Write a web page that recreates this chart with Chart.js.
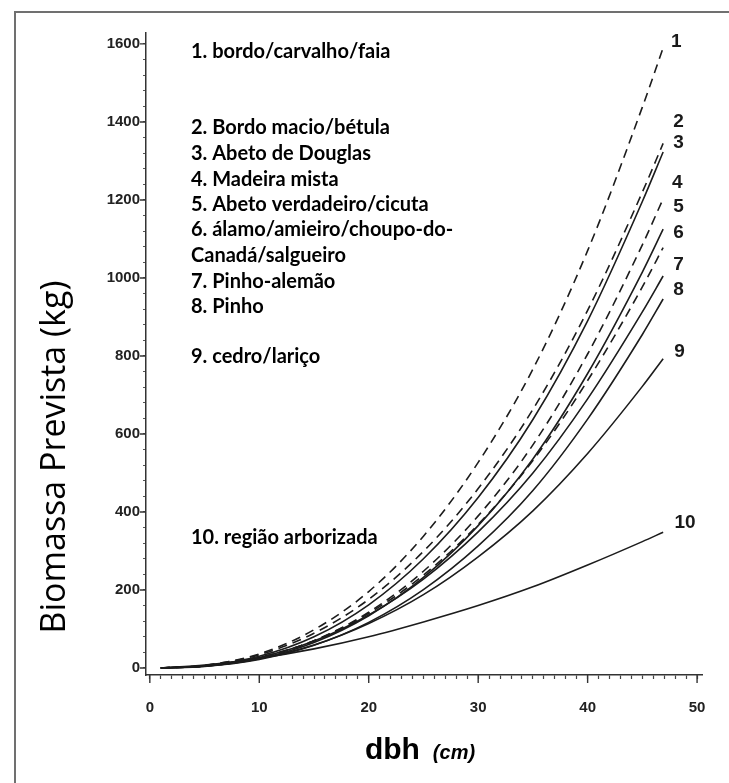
<!DOCTYPE html>
<html>
<head>
<meta charset="utf-8">
<script src="https://cdn.jsdelivr.net/npm/chart.js@4.4.1/dist/chart.umd.min.js"></script>
<style>
  body { margin: 0; background: #fff; }
  #wrap { position: relative; width: 729px; height: 783px; overflow: hidden; }
  #frame { position: absolute; left: 14px; top: 11px; width: 800px; height: 900px;
           border-left: 2px solid #707070; border-top: 2px solid #707070; }
  #c { position: absolute; left: 0; top: 0; }
</style>
</head>
<body>
<div id="wrap">
  <div id="frame"></div>
  <canvas id="c" width="729" height="783"></canvas>
</div>
<script>
// dbh (cm) where the curves were read
var dbh = [1, 5, 10, 15, 20, 25, 30, 35, 40, 45, 46.9];

// predicted biomass (kg) for each group
var bordoCarvalho = [0.1, 6.7, 36, 98, 196, 338, 527, 766, 1070, 1438, 1590];
var bordoMacio    = [0.1, 6.7, 34, 89, 176, 299, 460, 663, 917, 1220, 1345];
var douglas       = [0.1, 5.5, 30, 80, 162, 280, 437, 637, 890, 1196, 1323];
var mista         = [0.1, 4.6, 25.5, 70, 143, 248, 390, 572, 805, 1085, 1203];
var abetoCicuta   = [0.1, 4.3, 24, 65.5, 134, 232, 365, 536, 755, 1015, 1125];
var alamo         = [0.1, 5.1, 27, 70, 140, 238, 368, 532, 737, 977, 1078];
var pinhoAlemao   = [0.1, 5.4, 27, 69, 136, 228, 349, 500, 690, 913, 1005];
var pinho         = [0.1, 4.0, 22, 58, 117, 201, 313, 455, 638, 855, 946];
var cedroLarico   = [0.1, 5.0, 24, 59, 114, 188, 285, 403, 550, 722, 793];
var regiaoArb     = [0.5, 7.6, 25, 49, 80, 118, 160, 208, 264, 324, 348];

var series = [bordoCarvalho, bordoMacio, douglas, mista, abetoCicuta,
              alamo, pinhoAlemao, pinho, cedroLarico, regiaoArb];
var dashed = [true, true, false, true, false, true, false, false, false, false];

// number tags at the curve ends (data units)
var tagText = ["1", "2", "3", "4", "5", "6", "7", "8", "9", "10"];
var tagX = [48.1, 48.3, 48.3, 48.2, 48.3, 48.3, 48.3, 48.3, 48.4, 48.9];
var tagY = [1605, 1400, 1346, 1244, 1182, 1116, 1033, 969, 810, 372];

// legend list
var legendText = [
  "1. bordo/carvalho/faia",
  "2. Bordo macio/bétula",
  "3. Abeto de Douglas",
  "4. Madeira mista",
  "5. Abeto verdadeiro/cicuta",
  "6. álamo/amieiro/choupo-do-",
  "Canadá/salgueiro",
  "7. Pinho-alemão",
  "8. Pinho",
  "9. cedro/lariço",
  "10. região arborizada"
];
var legendRowY = [52, 128, 154, 180, 205, 230, 256, 282, 307, 357, 538];

var xTitle = "dbh";
var xUnit = "(cm)";
var yTitle = "Biomassa Prevista (kg)";

var datasets = series.map(function (vals, i) {
  return {
    label: tagText[i],
    data: dbh.map(function (d, k) { return { x: d, y: vals[k] }; }),
    borderColor: "#1c1c1c",
    borderWidth: 1.6,
    borderDash: dashed[i] ? [9, 6] : [],
    pointRadius: 0,
    cubicInterpolationMode: "monotone",
    fill: false
  };
});

var extras = {
  id: "extras",
  afterDraw: function (chart) {
    var ctx = chart.ctx, a = chart.chartArea;
    var x = chart.scales.x, y = chart.scales.y;
    ctx.save();
    // longer major ticks
    ctx.strokeStyle = "#333";
    ctx.lineWidth = 1.4;
    ctx.beginPath();
    for (var v = 0; v <= 50; v += 10) {
      var px = x.getPixelForValue(v);
      ctx.moveTo(px, a.bottom); ctx.lineTo(px, a.bottom + 8);
    }
    for (var w = 0; w <= 1600; w += 200) {
      var py = y.getPixelForValue(w);
      ctx.moveTo(a.left - 6, py); ctx.lineTo(a.left, py);
    }
    ctx.stroke();

    // curve number tags
    ctx.fillStyle = "#1a1a1a";
    ctx.font = 'bold 19px "Liberation Sans"';
    ctx.textAlign = "center";
    ctx.textBaseline = "middle";
    tagText.forEach(function (t, i) {
      ctx.fillText(t, x.getPixelForValue(tagX[i]), y.getPixelForValue(tagY[i]));
    });

    // legend list
    ctx.fillStyle = "#000";
    ctx.font = 'bold 20px Lato';
    ctx.textAlign = "left";
    legendText.forEach(function (t, i) {
      ctx.fillText(t, 191, legendRowY[i]);
    });

    // x title: "dbh (cm)"
    ctx.textBaseline = "alphabetic";
    ctx.font = 'bold 30px "Liberation Sans"';
    var w1 = ctx.measureText(xTitle).width;
    ctx.font = 'italic bold 20px "Liberation Sans"';
    var w2 = ctx.measureText(xUnit).width;
    var gap = 13;
    var start = 420 - (w1 + gap + w2) / 2;
    ctx.font = 'bold 30px "Liberation Sans"';
    ctx.fillText(xTitle, start, 759);
    ctx.font = 'italic bold 20px "Liberation Sans"';
    ctx.fillText(xUnit, start + w1 + gap, 759);

    // y title
    ctx.translate(55, 457);
    ctx.rotate(-Math.PI / 2);
    ctx.textAlign = "center";
    ctx.textBaseline = "middle";
    ctx.font = '34px "Open Sans"';
    ctx.fillText(yTitle, 0, 0);
    ctx.restore();
  }
};

new Chart(document.getElementById("c"), {
  type: "scatter",
  data: { datasets: datasets },
  options: {
    responsive: false,
    animation: false,
    showLine: true,
    layout: { padding: { left: 0, top: 33, right: 27, bottom: 0 } },
    plugins: { legend: { display: false }, tooltip: { enabled: false } },
    scales: {
      x: {
        type: "linear",
        min: -0.35,
        max: 50.45,
        afterFit: function (s) { s.height = 108; },
        border: { display: true, color: "#333", width: 1.5 },
        grid: { display: true, drawOnChartArea: false, drawTicks: true, tickLength: 4, tickColor: "#444", tickWidth: 1.2 },
        ticks: {
          stepSize: 1,
          includeBounds: false,
          autoSkip: false,
          maxRotation: 0,
          padding: 20,
          color: "#222",
          font: { family: "Liberation Sans", size: 15, weight: "bold" },
          callback: function (v) { return v % 10 === 0 ? String(v) : ""; }
        }
      },
      y: {
        type: "linear",
        min: -18,
        max: 1628,
        afterFit: function (s) { s.width = 146; },
        border: { display: true, color: "#333", width: 1.5 },
        grid: { display: true, drawOnChartArea: false, drawTicks: true, tickLength: 3, tickColor: "#555", tickWidth: 1 },
        ticks: {
          stepSize: 40,
          includeBounds: false,
          autoSkip: false,
          padding: 3,
          color: "#222",
          font: { family: "Liberation Sans", size: 15, weight: "bold" },
          callback: function (v) { return v % 200 === 0 ? String(v) : ""; }
        }
      }
    }
  },
  plugins: [extras]
});
</script>
</body>
</html>
